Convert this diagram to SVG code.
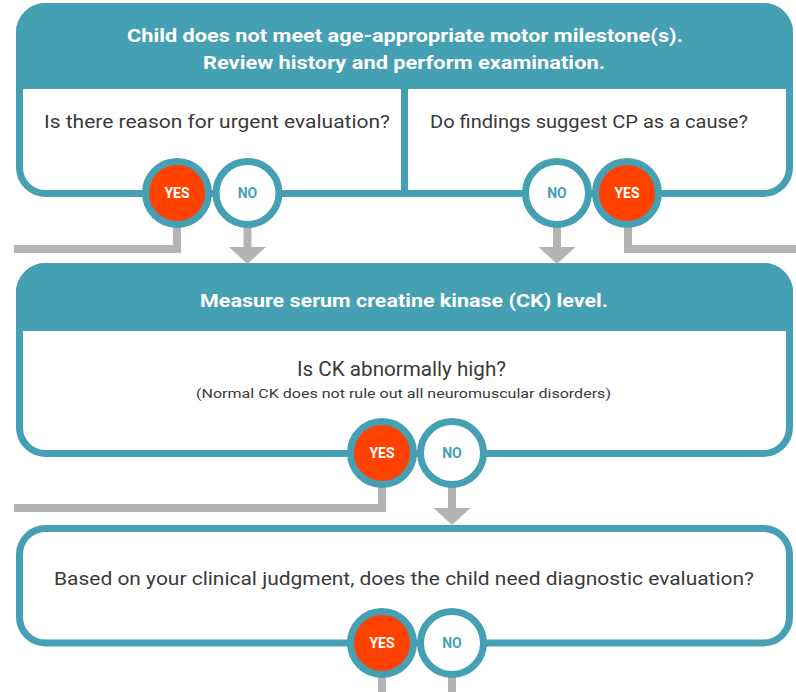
<svg xmlns="http://www.w3.org/2000/svg" width="796" height="692" viewBox="0 0 796 692">
  <style>
    .box { fill: #ffffff; stroke: #45a0b4; stroke-width: 7; }
    .head { fill: #45a0b4; }
    .divider { stroke: #45a0b4; stroke-width: 7; }
    .htext { font-family: Roboto, "Open Sans", sans-serif; font-weight: bold; font-size: 19px; fill: #ffffff; text-anchor: middle; }
    .qtext { font-family: Roboto, "Open Sans", sans-serif; font-size: 18px; fill: #3a3a3a; text-anchor: middle; }
    .note { font-family: Roboto, "Open Sans", sans-serif; font-size: 13px; fill: #3a3a3a; text-anchor: middle; }
    .yes circle { fill: #ff4200; stroke: #45a0b4; stroke-width: 7; }
    .no circle { fill: #ffffff; stroke: #45a0b4; stroke-width: 7; }
    .yes text { font-family: Roboto, "Open Sans", sans-serif; font-weight: bold; font-size: 14px; fill: #ffffff; text-anchor: middle; }
    .no text { font-family: Roboto, "Open Sans", sans-serif; font-weight: bold; font-size: 14px; fill: #45a0b4; text-anchor: middle; }
    .line { fill: none; stroke: #b4b4b4; stroke-width: 8; }
    .tip { fill: #b4b4b4; }
  </style>

  <!-- connectors -->
  <g id="connectors">
    <!-- from first row -->
    <polyline class="line" points="177,220 177,249 14,249"/>
    <line class="line" x1="247.5" y1="220" x2="247.5" y2="250"/>
    <polygon class="tip" points="229,247 266,247 247.5,264"/>
    <line class="line" x1="557" y1="220" x2="557" y2="250"/>
    <polygon class="tip" points="538.5,247 575.5,247 557,264"/>
    <polyline class="line" points="628,220 628,249 796,249"/>
    <!-- from CK box -->
    <polyline class="line" points="382,480 382,508 14,508"/>
    <line class="line" x1="452" y1="480" x2="452" y2="511"/>
    <polygon class="tip" points="433.5,508 470.5,508 452,525"/>
    <!-- from judgment box -->
    <line class="line" x1="382" y1="670" x2="382" y2="692"/>
    <line class="line" x1="452" y1="670" x2="452" y2="692"/>
  </g>

  <!-- first decision block -->
  <g id="initial-review">
    <rect class="box" x="19.5" y="6.5" width="770" height="187" rx="26"/>
    <path class="head" d="M16,89 V32.5 A29.5,29.5 0 0 1 45.5,3 H763.5 A29.5,29.5 0 0 1 793,32.5 V89 Z"/>
    <line class="divider" x1="404.5" y1="89" x2="404.5" y2="193"/>
    <text class="htext" x="405" y="42" textLength="556" lengthAdjust="spacingAndGlyphs">Child does not meet age-appropriate motor milestone(s).</text>
    <text class="htext" x="404" y="69" textLength="402" lengthAdjust="spacingAndGlyphs">Review history and perform examination.</text>
    <text class="qtext" x="217" y="128" textLength="346" lengthAdjust="spacingAndGlyphs">Is there reason for urgent evaluation?</text>
    <text class="qtext" x="589" y="128" textLength="318" lengthAdjust="spacingAndGlyphs">Do findings suggest CP as a cause?</text>
  </g>
  <g id="urgent-yes" class="yes"><circle cx="177" cy="193" r="31.5"/><text x="177" y="198">YES</text></g>
  <g id="urgent-no" class="no"><circle cx="247.5" cy="193" r="31.5"/><text x="247.5" y="198">NO</text></g>
  <g id="cp-no" class="no"><circle cx="557" cy="193" r="31.5"/><text x="557" y="198">NO</text></g>
  <g id="cp-yes" class="yes"><circle cx="627" cy="193" r="31.5"/><text x="627" y="198">YES</text></g>

  <!-- CK measurement block -->
  <g id="ck-level">
    <rect class="box" x="19.5" y="266.5" width="770" height="187" rx="26"/>
    <path class="head" d="M16,331 V292.5 A29.5,29.5 0 0 1 45.5,263 H763.5 A29.5,29.5 0 0 1 793,292.5 V331 Z"/>
    <text class="htext" x="404" y="307" textLength="408" lengthAdjust="spacingAndGlyphs">Measure serum creatine kinase (CK) level.</text>
    <text class="qtext" x="401.5" y="376" style="font-size:20px" textLength="209" lengthAdjust="spacingAndGlyphs">Is CK abnormally high?</text>
    <text class="note" x="403.5" y="398" textLength="415" lengthAdjust="spacingAndGlyphs">(Normal CK does not rule out all neuromuscular disorders)</text>
  </g>
  <g id="ck-yes" class="yes"><circle cx="382" cy="453" r="31.5"/><text x="382" y="458">YES</text></g>
  <g id="ck-no" class="no"><circle cx="452" cy="453" r="31.5"/><text x="452" y="458">NO</text></g>

  <!-- clinical judgment block -->
  <g id="clinical-judgment">
    <rect class="box" x="19.5" y="528.5" width="770" height="114.5" rx="26"/>
    <text class="qtext" x="404" y="585" textLength="700" lengthAdjust="spacingAndGlyphs">Based on your clinical judgment, does the child need diagnostic evaluation?</text>
  </g>
  <g id="judgment-yes" class="yes"><circle cx="382" cy="643" r="31.5"/><text x="382" y="648">YES</text></g>
  <g id="judgment-no" class="no"><circle cx="452" cy="643" r="31.5"/><text x="452" y="648">NO</text></g>
</svg>
